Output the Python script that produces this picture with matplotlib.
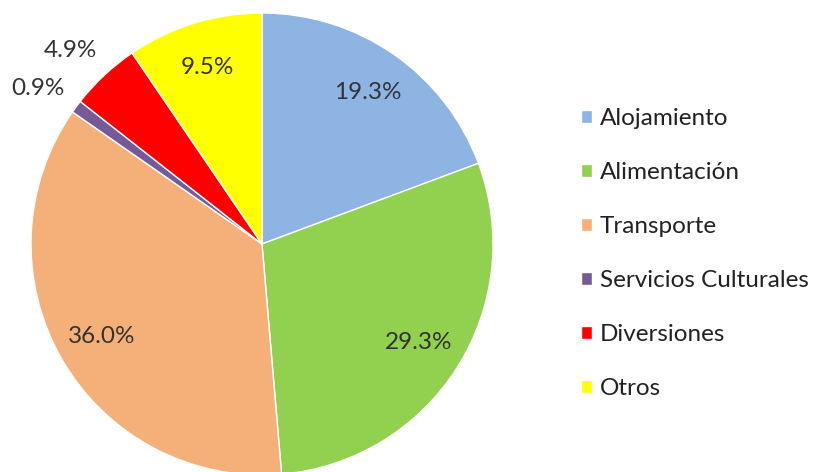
import numpy as np
import matplotlib.pyplot as plt

categories = ['Alojamiento', 'Alimentación', 'Transporte', 'Servicios Culturales', 'Diversiones', 'Otros']
shares = [19.3, 29.3, 36.0, 0.9, 4.9, 9.5]
colors = ['#8eb4e3', '#92d050', '#f5b07a', '#765a97', '#ff0000', '#ffff00']
outside = ['Servicios Culturales', 'Diversiones']

plt.rcParams['font.family'] = ['Lato', 'DejaVu Sans']

fig = plt.figure(figsize=(8.13, 4.72), dpi=100)
ax = fig.add_axes([0, 0, 1, 1])

cx, cy, r = 262, 228, 231
wedges, texts, autotexts = ax.pie(
    shares, colors=colors, startangle=90, counterclock=False,
    center=(cx, cy), radius=r, autopct='%.1f%%', pctdistance=0.8,
    wedgeprops=dict(edgecolor='white', linewidth=1),
    textprops=dict(fontsize=17.5, color='#333333'), frame=True)
ax.axis('off')
ax.set_xlim(0, 813)
ax.set_ylim(0, 472)

# small slices get their labels outside the pie
for w, t, name in zip(wedges, autotexts, categories):
    if name in outside:
        ang = np.deg2rad((w.theta1 + w.theta2) / 2 + 1.7)
        t.set_position((cx + 1.18 * r * np.cos(ang), cy + 1.18 * r * np.sin(ang)))

ax.legend(wedges, categories, loc='center left', bbox_to_anchor=(581 / 813, 0.463),
          frameon=False, fontsize=17.5, labelcolor='#222222',
          handlelength=0.45, handleheight=0.45, handletextpad=0.32,
          labelspacing=1.36, borderaxespad=0, borderpad=0)

fig.savefig('out.png', dpi=100)
